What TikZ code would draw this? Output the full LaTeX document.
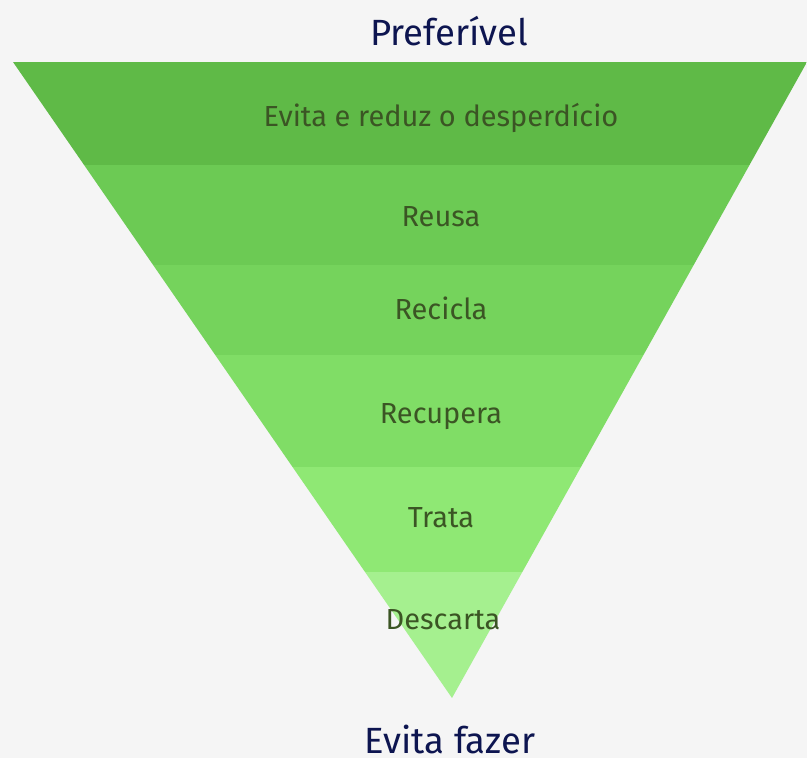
\documentclass[tikz,border=0pt]{standalone}
\usepackage{fontspec}
\setmainfont{Fira Sans}
\definecolor{bgcol}{HTML}{F5F5F5}
\definecolor{titlecol}{HTML}{0D1550}
\definecolor{labelcol}{HTML}{3B5524}
\definecolor{bandA}{HTML}{5FBA47}
\definecolor{bandB}{HTML}{6CCA54}
\definecolor{bandC}{HTML}{75D35C}
\definecolor{bandD}{HTML}{80DD66}
\definecolor{bandE}{HTML}{8FE874}
\definecolor{bandF}{HTML}{A5F08F}
\tikzset{
  title/.style={anchor=base,inner sep=0pt,text=titlecol,font=\fontsize{36.5}{40}\selectfont},
  level/.style={anchor=base,inner sep=0pt,text=labelcol,font=\fontsize{29}{34}\selectfont}
}
\begin{document}
\begin{tikzpicture}[x=1pt,y=-1pt]
    \fill[bgcol] (0,0) rectangle (807,758);
    \useasboundingbox (0,0) rectangle (807,758);
    \coordinate (tl) at (13,62);
    \coordinate (tr) at (807,62);
    \coordinate (apex) at (452,698);
    \begin{scope}
      \clip (tl) -- (tr) -- (apex) -- cycle;
      \fill[bandA] (0,62) rectangle (807,165);
      \fill[bandB] (0,165) rectangle (807,265);
      \fill[bandC] (0,265) rectangle (807,355);
      \fill[bandD] (0,355) rectangle (807,467);
      \fill[bandE] (0,467) rectangle (807,572);
      \fill[bandF] (0,572) rectangle (807,698);
    \end{scope}
    \node[title] (pref) at (449,45) {Preferível};
    \node[title] (evfaz) at (450,753) {Evita fazer};
    \node[level] (evita) at (441,126) {Evita e reduz o desperdício};
    \node[level] (reusa) at (441,226) {Reusa};
    \node[level] (recicla) at (441,319) {Recicla};
    \node[level] (recupera) at (441,423) {Recupera};
    \node[level] (trata) at (441,527) {Trata};
    \node[level] (descarta) at (443,629) {Descarta};
  \end{tikzpicture}
\end{document}
